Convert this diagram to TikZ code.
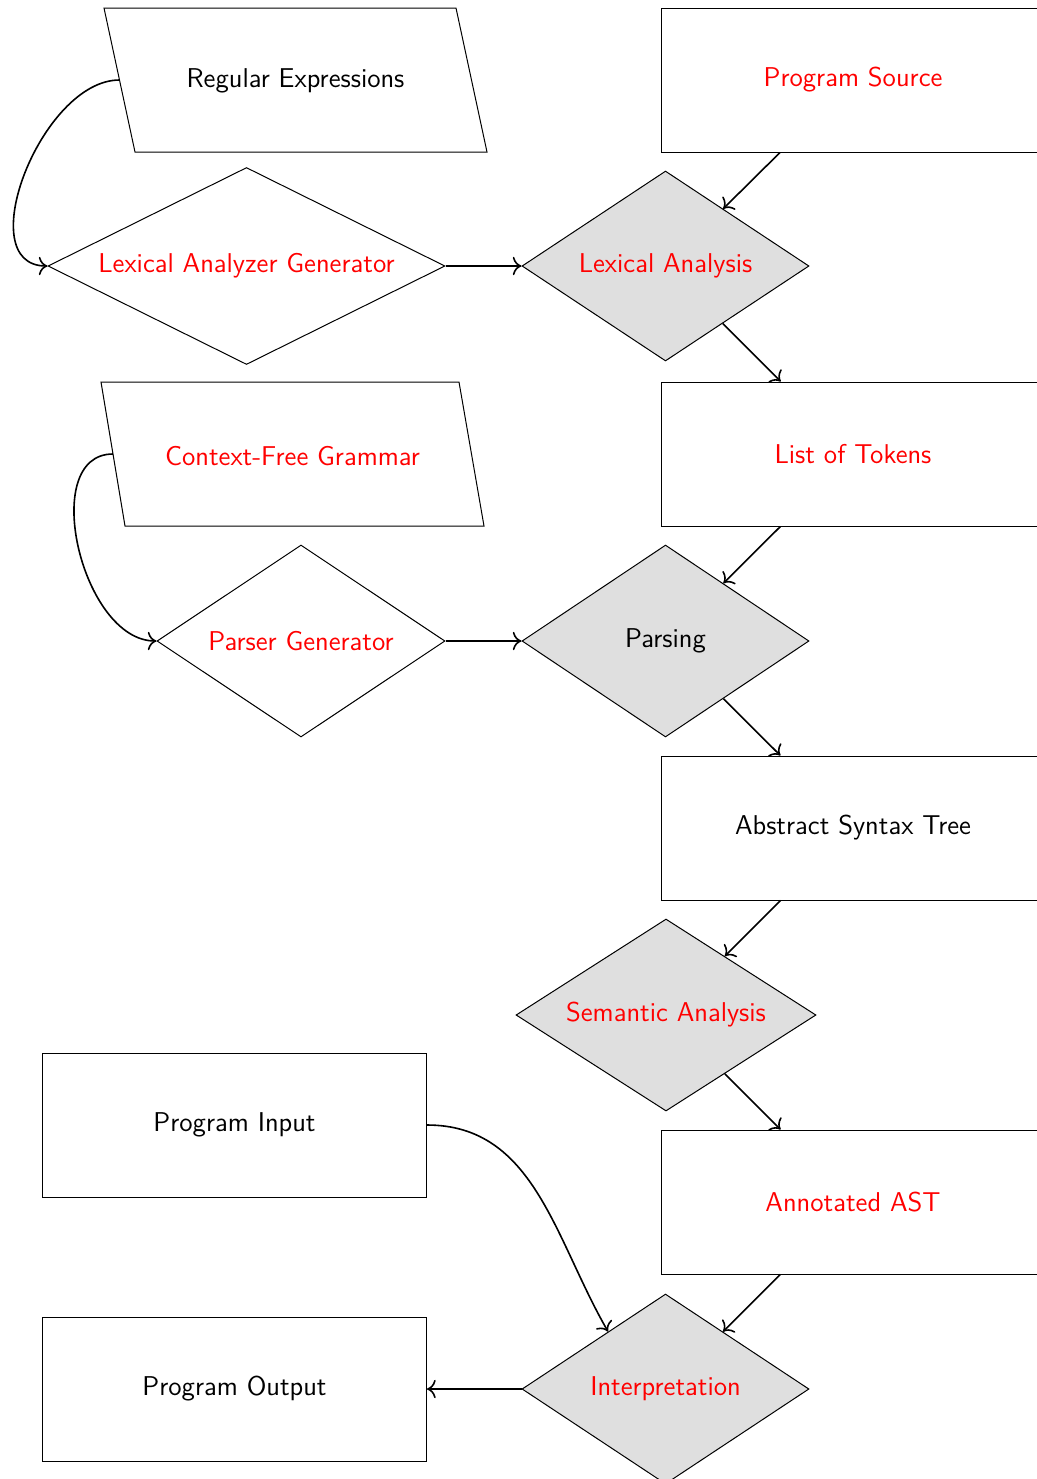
\documentclass[tikz,border=0pt]{standalone}
\usetikzlibrary{shapes.geometric,calc,arrows.meta}
\begin{document}
\begin{tikzpicture}[x=0.5pt,y=-0.5pt,
  every node/.style={font=\sffamily\fontsize{13.6}{16}\selectfont},
  rbox/.style={draw,line width=0.5pt,rectangle,minimum width=192pt,minimum height=72pt,inner sep=0pt},
  dbox/.style={draw,line width=0.5pt,diamond,aspect=2,inner sep=0pt},
  gdbox/.style={dbox,fill=gray!25},
  txt/.style={inner sep=0pt},
  para/.style={draw,line width=0.5pt},
  arr/.style={-{To[scale=1.3]},line width=0.8pt},
  hl/.style={text=red}]
\useasboundingbox (0,0) rectangle (1037,1479);
\clip (0,0) rectangle (1037,1479);

% parallelograms
\draw[para] (104,8) -- (456,8) -- (487,152) -- (135,152) -- cycle;
\node[txt] (re) at (295.5,81) {Regular Expressions};
\coordinate (reL) at (119.5,80);
\draw[para] (101,382) -- (459,382) -- (484,526) -- (125,526) -- cycle;
\node[txt,hl] (cfg) at (292.5,456) {Context-Free Grammar};
\coordinate (cfgL) at (113,454);

% rectangles
\node[rbox,hl] (src) at (853,80) {Program Source};
\node[rbox,hl] (tok) at (853,454) {List of Tokens};
\node[rbox] (ast) at (853,828) {Abstract Syntax Tree};
\node[rbox,hl] (aast) at (853,1202) {Annotated AST};
\node[rbox] (input) at (234.5,1125) {Program Input};
\node[rbox] (output) at (234.5,1389) {Program Output};

% diamonds
\node[dbox,hl,minimum width=198.5pt,minimum height=98.5pt] (lag) at (246.5,266) {Lexical Analyzer Generator};
\node[gdbox,hl,minimum width=143.5pt,minimum height=95pt] (lex) at (665.5,266) {Lexical Analysis};
\node[dbox,hl,minimum width=144pt,minimum height=96pt] (pg) at (301,641) {Parser Generator};
\node[gdbox,minimum width=143.5pt,minimum height=96pt] (parse) at (665.5,641) {Parsing};
\node[gdbox,hl,minimum width=150pt,minimum height=96pt] (sem) at (666,1015) {Semantic Analysis};
\node[gdbox,hl,minimum width=143.5pt,minimum height=95pt] (interp) at (665.5,1389) {Interpretation};

% connectors
\draw[arr] (reL) to[out=180,in=180] (lag.west);
\draw[arr] (cfgL) to[out=180,in=180] (pg.west);
\draw[arr] (lag.east) -- (lex.west);
\draw[arr] (pg.east) -- (parse.west);
\draw[arr] (src) -- (lex);
\draw[arr] (lex) -- (tok);
\draw[arr] (tok) -- (parse);
\draw[arr] (parse) -- (ast);
\draw[arr] (ast) -- (sem);
\draw[arr] (sem) -- (aast);
\draw[arr] (aast) -- (interp);
\draw[arr] (input.east) to[out=0,in=120] (interp.135);
\draw[arr] (interp.west) -- (output.east);
\end{tikzpicture}
\end{document}
